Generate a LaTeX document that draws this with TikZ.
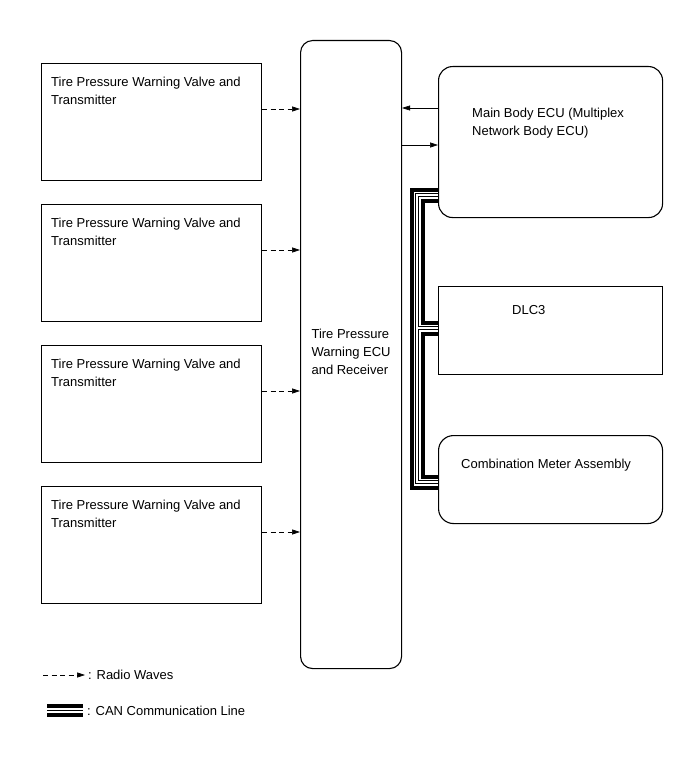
\documentclass[tikz,border=0pt]{standalone}
\usepackage{fontspec}
\setmainfont{Liberation Sans}
\usetikzlibrary{positioning,arrows.meta}

\begin{document}
\begin{tikzpicture}[x=1pt,y=-1pt,font=\fontsize{13}{18}\selectfont,
  unitbox/.style={draw,line width=1.1pt,anchor=north west,inner sep=0,minimum width=220pt,minimum height=117pt},
  ecubox/.style={unitbox,rounded corners=12pt},
  lbl/.style={inner sep=0,align=left},
  radio/.style={line width=0.6pt,dash pattern=on 5pt off 3.5pt,-{Triangle[length=8pt,width=5pt]}},
  sig/.style={line width=0.6pt,-{Triangle[length=8pt,width=5pt]}}]
  \useasboundingbox (0,0) rectangle (690,757);
  % transmitters
  \foreach \i/\y in {1/63,2/204,3/345,4/486}{
    \node[unitbox] (tx\i) at (41,\y) {};
    \node[lbl,below right=14pt and 10pt of tx\i.north west] (tx\i txt) {Tire Pressure Warning Valve and\\Transmitter};
    \coordinate (rw\i) at ([yshift=-46pt]tx\i.north east);
  }
  % receiver
  \node[ecubox,minimum width=101pt,minimum height=628pt] (ecu) at (300,40) {};
  \node[lbl] (ecutxt) at ([yshift=3pt]ecu.center) {Tire Pressure\\Warning ECU\\and Receiver};
  % right side
  \node[ecubox,minimum width=224pt,minimum height=151pt,rounded corners=14pt] (main) at (438,66) {};
  \node[lbl,below right=42pt and 34pt of main.north west] (maintxt) {Main Body ECU (Multiplex\\Network Body ECU)};
  \node[unitbox,minimum width=224pt,minimum height=88pt] (dlc) at (438,286) {};
  \node[lbl,below right=19pt and 74pt of dlc.north west] (dlctxt) {DLC3};
  \node[ecubox,minimum width=224pt,minimum height=88pt,rounded corners=15pt] (meter) at (438,435) {};
  \node[lbl,below right=24pt and 23pt of meter.north west] (metertxt) {Combination Meter Assembly};

  \foreach \i in {1,...,4}{\draw[radio] (rw\i) -- (rw\i -| ecu.west);}

  \coordinate (s1) at ([yshift=-42pt]main.north west);
  \coordinate (s2) at ([yshift=-79pt]main.north west);
  \draw[sig] (s1) -- (s1 -| ecu.east);
  \draw[sig] (s2 -| ecu.east) -- (s2);

  % CAN bus
  \coordinate (busT) at (417,195);
  \coordinate (busM) at (417,328);
  \coordinate (busB) at (417,482);
  \foreach \w/\c in {15/black,7/white,4/black,2/white}{
    \draw[line width=\w pt,\c] (busT -| main.west) -- (busT) -- (busB) -- (busB -| meter.west);
    \draw[line width=\w pt,\c] (busM) -- (busM -| dlc.west);
  }

  % legend
  \coordinate (rwA) at (43,675);
  \coordinate (rwB) at (85,675);
  \draw[radio] (rwA) -- (rwB);
  \node[lbl,right=3pt of rwB] (rwtxt) {: Radio Waves};
  \coordinate (canA) at (47,710.5);
  \coordinate (canB) at (83,710.5);
  \foreach \w/\c in {13/black,5/white,1/black}{
    \draw[line width=\w pt,\c] (canA) -- (canB);
  }
  \node[lbl,right=4pt of canB] (cantxt) {: CAN Communication Line};
\end{tikzpicture}
\end{document}
